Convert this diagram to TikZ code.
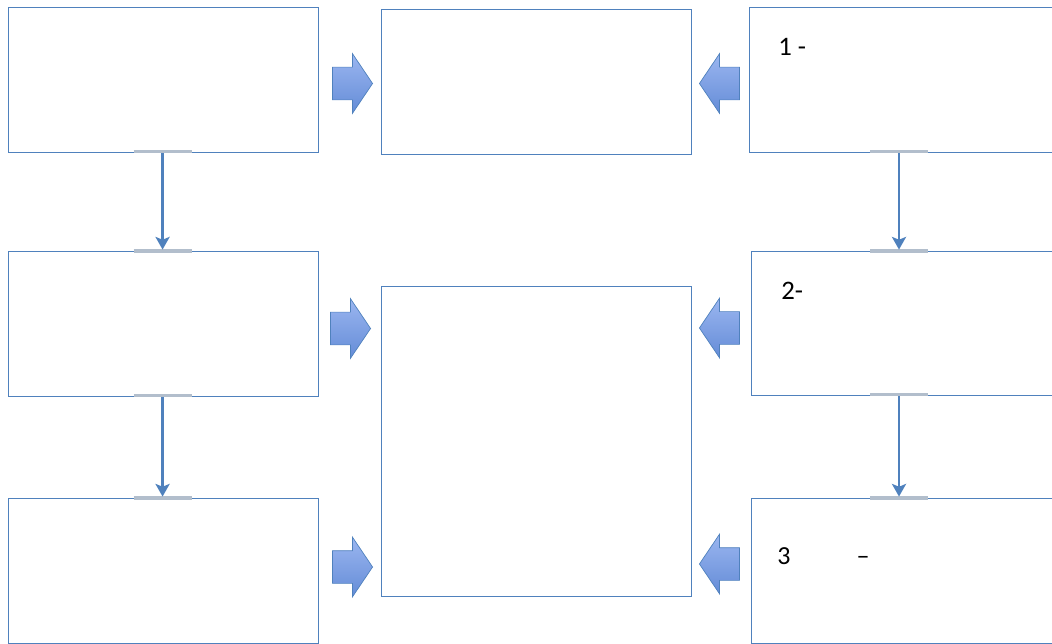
\documentclass[tikz,border=0pt]{standalone}
\usepackage{fontspec}
\setmainfont{Carlito}
\usetikzlibrary{shapes.arrows,arrows.meta,calc}

\definecolor{boxblue}{RGB}{79,129,189}
\definecolor{blocklight}{RGB}{155,182,240}
\definecolor{blockdark}{RGB}{100,140,215}
\definecolor{barblue}{RGB}{178,190,204}

\tikzset{
  panel/.style={draw=boxblue, line width=0.75pt, anchor=north west, inner sep=0pt,
    minimum width=7.75cm, minimum height=3.625cm},
  blockarrow/.style={single arrow, draw=boxblue, line width=0.5pt,
    top color=blocklight, bottom color=blockdark, minimum height=1cm,
    inner xsep=0pt, inner ysep=0.4cm, minimum width=0pt,
    single arrow head extend=0.3375cm, single arrow tip angle=112, anchor=tip},
  link/.style={draw=boxblue, line width=1.8pt, -{Stealth[length=9pt, width=10pt, inset=2pt]}, shorten >=1pt},
  endbar/.style={draw=barblue, line width=2.2pt},
  lbl/.style={anchor=base west, inner sep=0pt, font={\fontsize{19}{23}\selectfont}},
  lblsmall/.style={anchor=base west, inner sep=0pt, font={\fontsize{18.5}{22}\selectfont}}
}

\begin{document}
\begin{tikzpicture}[x=0.025cm, y=-0.025cm]

  \useasboundingbox (0,0) rectangle (1052,644);

  % left column
  \node[panel] (L1) at (8,7) {};
  \node[panel] (L2) at (8,251) {};
  \node[panel] (L3) at (8,498) {};

  % centre
  \node[panel] (C1) at (381,9) {};
  \node[panel, minimum height=7.75cm] (C2) at (381,286) {};

  % right column
  \node[panel, minimum width=8cm] (R1) at (749,7) {};
  \node[panel, minimum width=8cm, minimum height=3.6cm] (R2) at (751,251) {};
  \node[panel, minimum width=8cm] (R3) at (751,498) {};

  \node[lbl] (t1) at (778,56) {1 -};
  \node[lbl] (t2) at (781,299) {2-};
  \node[lblsmall] (t3) at (777,564) {3\hspace{47pt}–};

  % block arrows
  \node[blockarrow] (A1) at (373,83.5) {};
  \node[blockarrow] (A2) at (371,328.5) {};
  \node[blockarrow] (A3) at (373,567) {};
  \node[blockarrow, shape border rotate=180] (B1) at (699,83.5) {};
  \node[blockarrow, shape border rotate=180] (B2) at (699,328) {};
  \node[blockarrow, shape border rotate=180] (B3) at (699,564) {};

  % connectors
  \coordinate (L1s) at ($(L1.south)+(-1,0)$);
  \coordinate (L2n) at ($(L2.north)+(-1,0)$);
  \coordinate (L2s) at ($(L2.south)+(-1,0)$);
  \coordinate (L3n) at ($(L3.north)+(-1,0)$);
  \coordinate (R1s) at ($(R1.south west)+(150,0)$);
  \coordinate (R2n) at ($(R2.north west)+(148,0)$);
  \coordinate (R2s) at ($(R2.south west)+(148,0)$);
  \coordinate (R3n) at ($(R3.north west)+(148,0)$);

  \draw[endbar] ($(L1s)+(-29,-2)$) -- ($(L1s)+(29,-2)$);
  \draw[endbar] ($(L2n)+(-29,0)$) -- ($(L2n)+(29,0)$);
  \draw[endbar] ($(L2s)+(-29,-2)$) -- ($(L2s)+(29,-2)$);
  \draw[endbar] ($(L3n)+(-29,0)$) -- ($(L3n)+(29,0)$);
  \draw[endbar] ($(R1s)+(-29,-2)$) -- ($(R1s)+(29,-2)$);
  \draw[endbar] ($(R2n)+(-29,0)$) -- ($(R2n)+(29,0)$);
  \draw[endbar] ($(R2s)+(-29,-2)$) -- ($(R2s)+(29,-2)$);
  \draw[endbar] ($(R3n)+(-29,0)$) -- ($(R3n)+(29,0)$);

  \draw[link] (L1s) -- (L2n);
  \draw[link] (L2s) -- (L3n);
  \draw[link] (R1s) -- (R2n);
  \draw[link] (R2s) -- (R3n);

\end{tikzpicture}
\end{document}
